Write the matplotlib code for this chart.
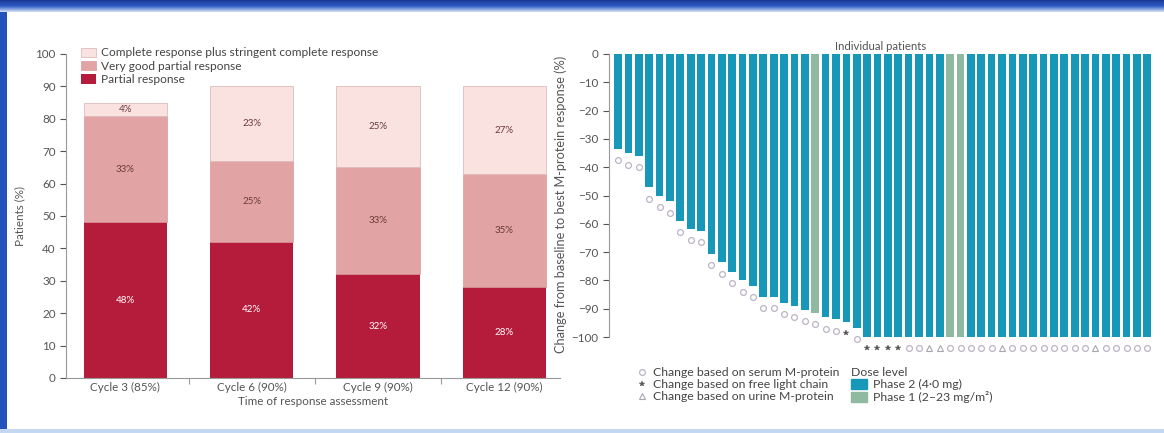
import numpy as np
import matplotlib
matplotlib.use("Agg")
import matplotlib.pyplot as plt
from matplotlib.patches import Rectangle, Patch
from matplotlib.lines import Line2D

plt.rcParams['font.family'] = ['Lato', 'DejaVu Sans']

# Left panel: response category by cycle (%)
cycles = ["Cycle 3 (85%)", "Cycle 6 (90%)", "Cycle 9 (90%)", "Cycle 12 (90%)"]
partial = [48, 42, 32, 28]
very_good = [33, 25, 33, 35]
complete = [4, 23, 25, 27]
left_ticks = list(range(0, 101, 10))

# Right panel: best change in M-protein per patient (%)
best_change = [-33.6, -35.1, -35.9, -47.1, -50.1, -52.1, -59.0, -61.8, -62.4,
               -70.5, -73.6, -76.9, -80.0, -81.9, -85.7, -85.8, -88.0, -88.9,
               -90.3, -91.5, -93.1, -93.8, -94.7, -96.8] + [-100] * 28
basis = (["serum"] * 22 + ["flc", "serum"]
         + ["flc"] * 4 + ["serum"] * 2 + ["urine"] * 2 + ["serum"] * 5
         + ["urine"] + ["serum"] * 8 + ["urine"] + ["serum"] * 5)
phase1_patients = [19, 32, 33]
right_ticks = list(range(0, -101, -10))

W, H = 1164, 433
fig = plt.figure(figsize=(W / 100, H / 100), dpi=100)
fig.patch.set_facecolor("white")


def box(x0, y0, x1, y1):
    # pixel box (top-left origin) -> figure fraction rect
    return [x0 / W, 1 - y1 / H, (x1 - x0) / W, (y1 - y0) / H]


# slide frame
top = fig.add_axes(box(0, 0, W, 12))
grad = np.linspace(0, 1, 12).reshape(-1, 1)
top.imshow(grad, aspect="auto", cmap=matplotlib.colors.LinearSegmentedColormap.from_list(
    "band", ["#1c3a9a", "#2d5cc4", "#c9d9f2"]), extent=[0, 1, 0, 1])
top.axis("off")
fig.patches.append(Rectangle((0, 0), 7 / W, 1, transform=fig.transFigure,
                             facecolor="#2352bd", edgecolor="none", zorder=-1))
fig.patches.append(Rectangle((0, 0), 1, 4 / H, transform=fig.transFigure,
                             facecolor="#c4d8f3", edgecolor="none", zorder=-1))

grey = "#555555"
fs = 8.4
tick_kw = dict(colors=grey, labelsize=fs, length=4, width=0.8)

# ---------------- left stacked bars ----------------
ax1 = fig.add_axes(box(66, 54, 560, 378))
x = np.arange(len(cycles))
bw = 0.66
c_pr, c_vg, c_cr = "#b51c3b", "#e1a3a4", "#f9e2e0"
ax1.bar(x, partial, bw, color=c_pr, label="Partial response")
ax1.bar(x, very_good, bw, bottom=partial, color=c_vg, edgecolor="#d99a9b",
        linewidth=0.5, label="Very good partial response")
b2 = np.array(partial) + np.array(very_good)
ax1.bar(x, complete, bw, bottom=b2, color=c_cr, edgecolor="#dcbcbb",
        linewidth=0.6, label="Complete response plus stringent complete response")

for i in range(len(cycles)):
    ax1.text(x[i], partial[i] / 2, f"{partial[i]}%", ha="center", va="center",
             color="white", fontsize=7)
    ax1.text(x[i], partial[i] + very_good[i] / 2, f"{very_good[i]}%", ha="center",
             va="center", color="#6b3b3b", fontsize=7)
    ax1.text(x[i], b2[i] + complete[i] / 2, f"{complete[i]}%", ha="center",
             va="center", color="#6b3b3b", fontsize=7)

ax1.set_xlim(-0.47, 3.44)
ax1.set_ylim(0, 100)
ax1.set_yticks(left_ticks)
ax1.set_xticks(x)
ax1.set_xticklabels(cycles)
ax1.set_xticks([0.5, 1.5, 2.5], minor=True)
ax1.tick_params(axis="y", **tick_kw)
ax1.tick_params(axis="x", which="major", length=0, pad=3, colors=grey, labelsize=fs)
ax1.tick_params(axis="x", which="minor", length=4, width=0.8, color="#999999")
for s in ("top", "right"):
    ax1.spines[s].set_visible(False)
for s in ("left", "bottom"):
    ax1.spines[s].set_color("#999999")
    ax1.spines[s].set_linewidth(0.8)
ax1.set_ylabel("Patients (%)", fontsize=fs, color=grey, labelpad=7)
ax1.set_xlabel("Time of response assessment", fontsize=fs, color=grey, labelpad=2)
h, l = ax1.get_legend_handles_labels()
ax1.legend(h[::-1], l[::-1], loc="upper left", bbox_to_anchor=(0.02, 1.035),
           frameon=False, fontsize=8.6, labelcolor="#444444", handlelength=1.3,
           handleheight=0.8, handletextpad=0.4, labelspacing=0.2, borderaxespad=0)

# ---------------- right waterfall ----------------
ax2 = fig.add_axes(box(609, 54, 1152, 354))
n = len(best_change)
idx = np.arange(n)
colors = ["#8fb9a0" if i in phase1_patients else "#1798b9" for i in idx]
ax2.bar(idx, best_change, 0.74, color=colors)

vals = np.array(best_change)
styles = {
    "serum": dict(marker="o", markersize=4.2, markerfacecolor="none",
                  markeredgecolor="#bcb4c6", markeredgewidth=0.9),
    "flc": dict(marker="*", markersize=4, markerfacecolor="#555555",
                markeredgecolor="#555555", markeredgewidth=0.3),
    "urine": dict(marker="^", markersize=4, markerfacecolor="none",
                  markeredgecolor="#a9a4ae", markeredgewidth=0.8),
}
for key, st in styles.items():
    sel = np.array([b == key for b in basis])
    ax2.plot(idx[sel], vals[sel] - 4, linestyle="none", clip_on=False, **st)

ax2.set_xlim(-0.87, 51.45)
ax2.set_ylim(-106, 0)
ax2.set_yticks(right_ticks)
ax2.set_yticklabels([str(t) if t == 0 else f"\u2212{abs(t)}" for t in right_ticks])
ax2.set_xticks([])
ax2.tick_params(axis="y", **tick_kw)
for s in ("top", "right", "bottom"):
    ax2.spines[s].set_visible(False)
ax2.spines["left"].set_bounds(-100, 0)
ax2.spines["left"].set_color("#999999")
ax2.spines["left"].set_linewidth(0.8)
ax2.set_ylabel("Change from baseline to best M-protein response (%)", fontsize=9.2,
               color=grey)
ax2.yaxis.set_label_coords(-0.078, 0.5)
ax2.set_title("Individual patients", fontsize=8.2, color=grey, pad=3)

mk_handles = [Line2D([], [], linestyle="none", **styles[k]) for k in ("serum", "flc", "urine")]
mk_labels = ["Change based on serum M-protein", "Change based on free light chain",
             "Change based on urine M-protein"]
leg1 = fig.legend(mk_handles, mk_labels, loc="upper left",
                  bbox_to_anchor=(632 / W, 1 - 362 / H), frameon=False, fontsize=8.8,
                  labelcolor="#444444", handlelength=0.8, handletextpad=0.5,
                  labelspacing=0.1, borderaxespad=0)
dose_handles = [Patch(color="#1798b9"), Patch(color="#8fb9a0")]
leg2 = fig.legend(dose_handles, ["Phase 2 (4\u00b70 mg)", "Phase 1 (2\u201323 mg/m\u00b2)"],
                  title="Dose level", loc="upper left", alignment="left",
                  bbox_to_anchor=(846 / W, 1 - 362 / H), frameon=False, fontsize=8.8,
                  title_fontsize=8.8, labelcolor="#444444", handlelength=1.3,
                  handleheight=0.8, handletextpad=0.5, labelspacing=0.1, borderaxespad=0)
leg2.get_title().set_color("#444444")

fig.savefig("out.png", dpi=100, facecolor=fig.get_facecolor())
